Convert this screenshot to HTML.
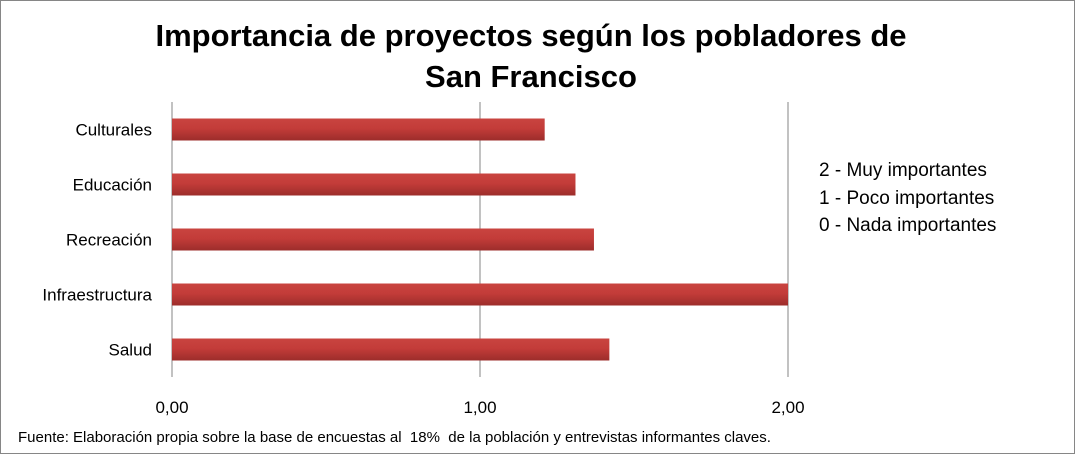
<!DOCTYPE html>
<html><head><meta charset="utf-8"><style>
body{margin:0;background:#fff;font-family:"Liberation Sans",sans-serif;}
#wrap{position:relative;width:1073px;height:452px;border:1px solid #868686;background:#fff;overflow:hidden}
#title{position:absolute;left:0;width:1060px;top:14px;text-align:center;font-weight:bold;font-size:31px;line-height:41px;color:#000}
#legend{position:absolute;left:818px;top:156px;font-size:19px;line-height:27.5px;color:#000}
#src{position:absolute;left:17px;top:428px;font-size:15px;color:#000;white-space:nowrap}
svg{position:absolute;left:0;top:0}
</style></head><body>
<div id="wrap">
<div id="title">Importancia de proyectos según los pobladores de<br>San Francisco</div>
<div id="legend">
<div>2 - Muy importantes</div>
<div>1 - Poco importantes</div>
<div>0 - Nada importantes</div>
</div>
<div id="src">Fuente: Elaboración propia sobre la base de encuestas al&nbsp; 18%&nbsp; de la población y entrevistas informantes claves.</div>
<svg id="chart" width="1075" height="454">
<defs><linearGradient id="g" x1="0" y1="0" x2="0" y2="1">
<stop offset="0" stop-color="#c94440"/><stop offset="0.45" stop-color="#c33c39"/><stop offset="1" stop-color="#9c2d2b"/></linearGradient></defs>
</svg>
</div>
<script>
const categories=["Culturales","Educación","Recreación","Infraestructura","Salud"];
const values=[1.21,1.31,1.37,2.0,1.42];
const ticks=["0,00","1,00","2,00"];
const tickVals=[0,1,2];
const svg=document.getElementById('chart');
const NS="http://www.w3.org/2000/svg";
const x0=171,x1=787,yTop=101,yBot=376,xMax=2;
const xs=v=>x0+(x1-x0)*v/xMax;
const band=(yBot-yTop)/categories.length;
const yc=i=>yTop+band*(i+0.5);
function mk(t,a){const e=document.createElementNS(NS,t);for(const k in a)e.setAttribute(k,a[k]);svg.appendChild(e);return e;}
tickVals.forEach((v,i)=>{
 const l=mk('line',{x1:xs(v),x2:xs(v),y1:yTop,y2:yBot,stroke:'#868686','stroke-width':1});
 
 
 const t=mk('text',{x:xs(v),y:412,'text-anchor':'middle','font-size':17,'font-family':'Liberation Sans, sans-serif'});
 t.textContent=ticks[i];
 
 
});
categories.forEach((c,i)=>{
 const h=22;
 const r=mk('rect',{x:x0,y:yc(i)-h/2,width:xs(values[i])-x0,height:h,fill:'url(#g)'});
 
 
 const t=mk('text',{x:151,y:yc(i)+6,'text-anchor':'end','font-size':17,'font-family':'Liberation Sans, sans-serif'});
 t.textContent=c;
 
 
});
</script>
</body></html>
